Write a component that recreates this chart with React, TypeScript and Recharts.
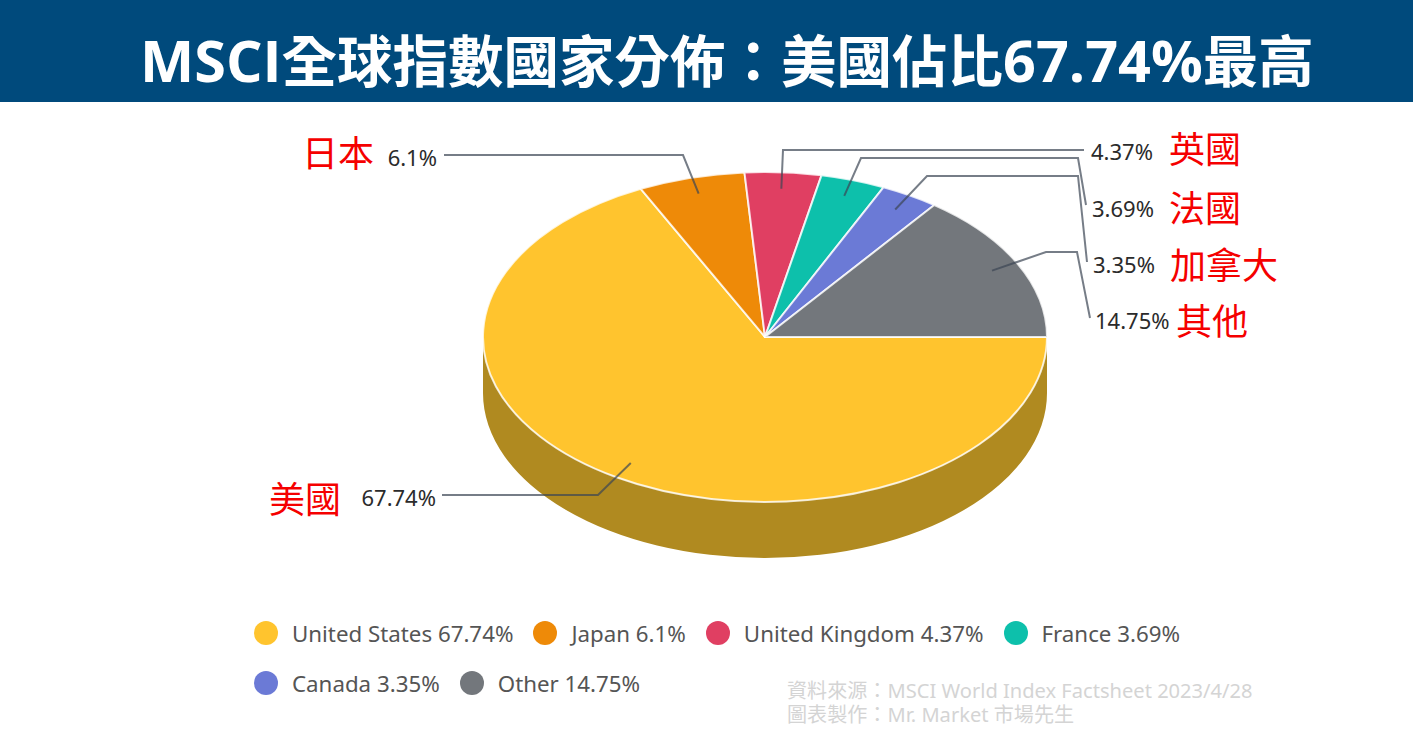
import React from "react";
import { PieChart, Pie, Legend } from "recharts";

const TITLE_PARTS = ["MSCI", "全球指數國家分佈\uFF1A美國佔比", "67.74%", "最高"];
const SOURCE_LINES = ["資料來源\uFF1AMSCI World Index Factsheet 2023/4/28", "圖表製作\uFF1AMr. Market 市場先生"];
const COUNTRIES = ["United States", "Japan", "United Kingdom", "France", "Canada", "Other"];
const COUNTRIES_ZH = ["美國", "日本", "英國", "法國", "加拿大", "其他"];
const SHARES = [67.74, 6.1, 4.37, 3.69, 3.35, 14.75];
const COLORS = ["#FFC42E", "#EE8A08", "#E03F62", "#0DC0AB", "#6B7AD6", "#73777C"];

const SIDE_COLOR = "#B08A20";
const CX = 765, CY = 337, RX = 282, RY = 165, DEPTH = 56;
const W = 1413, H = 740;
const FONT = '"Noto Sans", "Noto Sans CJK TC", sans-serif';
const RAD = Math.PI / 180;

// Leader-line layout: elbow points, percent label and Chinese label positions
const LEADERS = [
  { pts: [[598, 495], [442, 495]], pct: [436, 497, "end"], zh: [269, 500] },
  { pts: [[683, 155], [444, 155]], pct: [437, 157, "end"], zh: [302, 154] },
  { pts: [[783, 150], [1084, 150]], pct: [1091, 151, "start"], zh: [1169, 150] },
  { pts: [[861, 158], [1078, 158], [1086, 205]], pct: [1092, 208, "start"], zh: [1169, 209] },
  { pts: [[927, 176], [1078, 176], [1087, 262]], pct: [1093, 264, "start"], zh: [1170, 266] },
  { pts: [[1046, 252], [1077, 252], [1090, 318]], pct: [1095, 320, "start"], zh: [1176, 322] },
];

const tableData = COUNTRIES.map((name, i) => ({ name, value: SHARES[i], zh: COUNTRIES_ZH[i], fill: COLORS[i] }));

const pt = (angle: number, cx: number, cy: number, k = 1) => [
  cx + RX * k * Math.cos(angle * RAD),
  cy - RY * k * Math.sin(angle * RAD),
];

function TopSector(p: any) {
  const [x1, y1] = pt(p.startAngle, p.cx, p.cy);
  const [x2, y2] = pt(p.endAngle, p.cx, p.cy);
  const large = Math.abs(p.endAngle - p.startAngle) > 180 ? 1 : 0;
  const d = `M${p.cx},${p.cy} L${x1},${y1} A${RX},${RY} 0 ${large} 1 ${x2},${y2} Z`;
  return <path d={d} fill={p.fill} stroke="#FFFFFF" strokeOpacity={0.8} strokeWidth={2} strokeLinejoin="round" />;
}

function SideSector(p: any) {
  // only the front half (angles 0 .. -180) of the rim is visible
  const hi = Math.min(Math.max(p.startAngle, p.endAngle), 0);
  const lo = Math.max(Math.min(p.startAngle, p.endAngle), -180);
  if (hi <= lo) return <g />;
  const [x1, y1] = pt(hi, p.cx, p.cy);
  const [x2, y2] = pt(lo, p.cx, p.cy);
  const d = `M${x1},${y1} A${RX},${RY} 0 0 1 ${x2},${y2} L${x2},${y2 + DEPTH} A${RX},${RY} 0 0 0 ${x1},${y1 + DEPTH} Z`;
  return <path d={d} fill={SIDE_COLOR} stroke="none" />;
}

function LeaderLabel(p: any) {
  const i = p.index;
  const l = LEADERS[i];
  const [ax, ay] = pt(p.midAngle, p.cx, p.cy, 0.9);
  const points = [[ax, ay], ...l.pts].map((q) => q.join(",")).join(" ");
  return (
    <g>
      <polyline points={points} fill="none" stroke="#3C4654" strokeOpacity={0.7} strokeWidth={2} />
      <text x={l.pct[0] as number} y={l.pct[1] as number} textAnchor={l.pct[2] as any} dominantBaseline="central"
        fontFamily={FONT} fontSize={22} fill="#2B2B2B">{SHARES[i]}%</text>
      <text x={l.zh[0] as number} y={(l.zh[1] as number) - 3} dominantBaseline="central"
        fontFamily={'"Noto Sans CJK TC", sans-serif'} fontSize={36} fill="#F50000">{COUNTRIES_ZH[i]}</text>
    </g>
  );
}

function LegendBody({ payload }: any) {
  const items = COUNTRIES.map((n) => (payload || []).find((e: any) => e.value === n)).filter(Boolean);
  return (
    <div style={{ display: "flex", flexWrap: "wrap", columnGap: 20, rowGap: 0 }}>
      {items.map((e: any) => (
        <div key={e.value} style={{ display: "flex", alignItems: "center", height: 50, gap: 14 }}>
          <span style={{ width: 24, height: 24, borderRadius: "50%", background: e.color, display: "inline-block" }} />
          <span style={{ fontFamily: FONT, fontSize: 22.3, color: "#555", whiteSpace: "nowrap" }}>
            {e.value} {SHARES[COUNTRIES.indexOf(e.value)]}%
          </span>
        </div>
      ))}
    </div>
  );
}

export default function App() {
  return (
    <div style={{ position: "absolute", left: 0, top: 0, width: W, height: H, overflow: "hidden", background: "#fff" }}>
      <div style={{
        position: "absolute", left: 0, top: 0, width: W, height: 102, background: "#004A7C", color: "#fff",
        fontFamily: '"Noto Sans CJK TC", sans-serif', fontWeight: 700, fontSize: 55.5, lineHeight: "116px",
        paddingLeft: 140, boxSizing: "border-box", whiteSpace: "nowrap", overflow: "hidden",
      }}>
        {TITLE_PARTS.map((s, i) => (
          <span key={s} style={i % 2 === 0 ? { fontFamily: '"Open Sans", sans-serif', fontSize: 57.5 } : undefined}>{s}</span>
        ))}
      </div>
      <PieChart width={W} height={H} margin={{ top: 0, right: 0, bottom: 0, left: 0 }} style={{ position: "absolute", left: 0, top: 0 }}>
        <Pie data={tableData} dataKey="value" nameKey="name" cx={CX} cy={CY} outerRadius={RX} startAngle={0} endAngle={-360}
          isAnimationActive={false} legendType="none" shape={SideSector} activeShape={SideSector} inactiveShape={SideSector} />
        <Pie data={tableData} dataKey="value" nameKey="name" cx={CX} cy={CY} outerRadius={RX} startAngle={0} endAngle={-360}
          isAnimationActive={false} shape={TopSector} activeShape={TopSector} inactiveShape={TopSector}
          label={LeaderLabel} labelLine={false} />
        <Legend content={LegendBody as any} wrapperStyle={{ left: 254, top: 608, width: 950, bottom: "auto" }} />
      </PieChart>
      {SOURCE_LINES.map((s, i) => (
        <div key={s} style={{
          position: "absolute", left: 787, top: 679 + i * 23.5, fontFamily: FONT, fontSize: 20.1, lineHeight: "23px",
          color: "#D4D4D4", whiteSpace: "nowrap",
        }}>{s}</div>
      ))}
    </div>
  );
}
